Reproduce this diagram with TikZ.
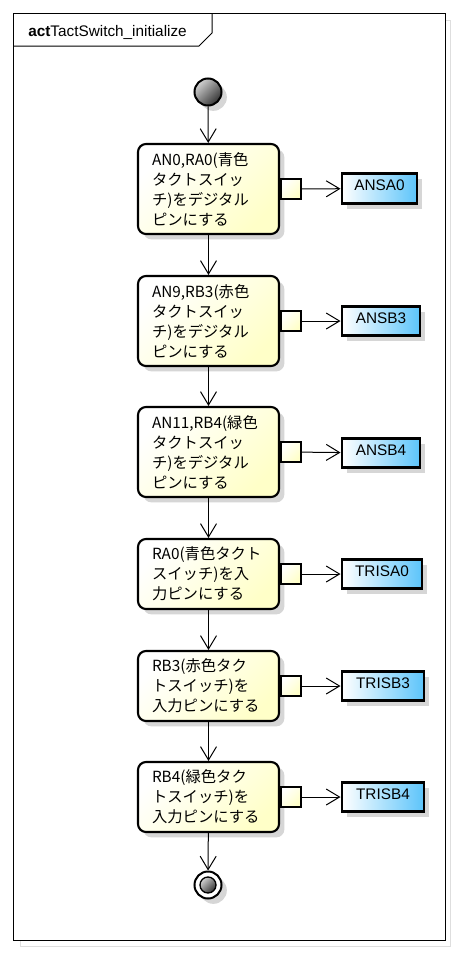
\documentclass[tikz,border=0pt]{standalone}
\usepackage{fontspec}
\setmainfont{Liberation Sans}
\newfontfamily\jpfont{Noto Sans CJK JP}
\usetikzlibrary{arrows.meta,shadows}
\definecolor{actionfill}{RGB}{255,255,200}
\definecolor{objectfill}{RGB}{92,196,250}
\definecolor{shadowgray}{RGB}{214,214,214}
\definecolor{framegray}{RGB}{222,222,222}

\begin{document}
\begin{tikzpicture}[x=0.75pt,y=-0.75pt,
		font=\fontsize{11.5}{15}\selectfont,
		>={Straight Barb[length=10pt,width=12pt]},
		flow/.style={->,line width=0.75pt},
		softshadow/.style={drop shadow={shadow xshift=4pt,shadow yshift=-4pt,fill=shadowgray,opacity=1}},
		action/.style={draw,line width=1.6pt,rounded corners=6pt,top color=white,bottom color=actionfill,shading angle=45,
			minimum width=105.75pt,text width=84.75pt,inner xsep=10.5pt,align=left,font=\jpfont\fontsize{11.5}{15}\selectfont,softshadow},
		pin/.style={draw,line width=1.5pt,minimum size=15pt,inner sep=0pt,top color=white,bottom color=actionfill,shading angle=45,anchor=west},
		object/.style={draw,line width=2.2pt,left color=white,right color=objectfill,minimum height=22pt,inner xsep=2pt,text depth=5pt,anchor=west,softshadow}]
	\useasboundingbox (0,0) rectangle (457,953);
	% frame
	\draw [framegray, line width=0.75pt] (20,20) rectangle (450,946);
	\draw [line width=0.75pt, fill=white] (13,13) rectangle (445,940);
	\draw [line width=0.75pt] (13,46) -- (199,46) -- (212,33) -- (212,13);
	\node [anchor=base west, inner sep=0pt] (title) at (28,36.5) {\textbf{act}TactSwitch\_initialize};

	% start and actions
	\node [circle, draw, line width=1.5pt, minimum size=20.25pt, inner sep=0pt, top color=gray!35, bottom color=black!80, shading angle=45, softshadow] (start) at (208,92) {};
	\node [action, minimum height=67.5pt] (ana0) at (208.5,189) {AN0,RA0(青色\\タクトスイッ\\チ)をデジタル\\ピンにする};
	\node [action, minimum height=67.5pt] (anb3) at (208.5,321) {AN9,RB3(赤色\\タクトスイッ\\チ)をデジタル\\ピンにする};
	\node [action, minimum height=67.5pt] (anb4) at (208.5,452) {AN11,RB4(緑色\\タクトスイッ\\チ)をデジタル\\ピンにする};
	\node [action, minimum height=52.5pt] (tra0) at (208.5,574) {RA0(青色タクト\\スイッチ)を入\\力ピンにする};
	\node [action, minimum height=52.5pt] (trb3) at (208.5,686) {RB3(赤色タク\\トスイッチ)を\\入力ピンにする};
	\node [action, minimum height=52.5pt] (trb4) at (208.5,797) {RB4(緑色タク\\トスイッチ)を\\入力ピンにする};

	% end
	\node [circle, draw, line width=1.5pt, minimum size=20.25pt, inner sep=0pt, fill=white, softshadow] (end) at (208,885) {};
	\node [circle, draw, line width=1pt, minimum size=12pt, inner sep=0pt, top color=gray!35, bottom color=black!80, shading angle=45] (endcore) at (end.center) {};

	% pins
	\node [pin] (pana0) at ([xshift=-0.4pt]ana0.east) {};
	\node [pin] (panb3) at ([xshift=-0.4pt]anb3.east) {};
	\node [pin] (panb4) at ([xshift=-0.4pt]anb4.east) {};
	\node [pin] (ptra0) at ([xshift=-0.4pt]tra0.east) {};
	\node [pin] (ptrb3) at ([xshift=-0.4pt]trb3.east) {};
	\node [pin] (ptrb4) at ([xshift=-0.4pt]trb4.east) {};

	% objects
	\node [object, minimum width=56.25pt] (ansa0) at (340.5,188.5) {ANSA0};
	\node [object, minimum width=58.5pt] (ansb3) at (340.5,321) {ANSB3};
	\node [object, minimum width=58.5pt] (ansb4) at (340.5,453) {ANSB4};
	\node [object, minimum width=60pt] (trisa0) at (340.5,574) {TRISA0};
	\node [object, minimum width=61.5pt] (trisb3) at (340.5,686) {TRISB3};
	\node [object, minimum width=61.5pt] (trisb4) at (340.5,797) {TRISB4};

	% flows
	\draw [flow] (start) -- (ana0);
	\draw [flow] (ana0) -- (anb3);
	\draw [flow] (anb3) -- (anb4);
	\draw [flow] (anb4) -- (tra0);
	\draw [flow] (tra0) -- (trb3);
	\draw [flow] (trb3) -- (trb4);
	\draw [flow] (trb4) -- (end);
	\draw [flow] (pana0) -- (ansa0);
	\draw [flow] (panb3) -- (ansb3);
	\draw [flow] (panb4) -- (ansb4);
	\draw [flow] (ptra0) -- (trisa0);
	\draw [flow] (ptrb3) -- (trisb3);
	\draw [flow] (ptrb4) -- (trisb4);
\end{tikzpicture}
\end{document}
